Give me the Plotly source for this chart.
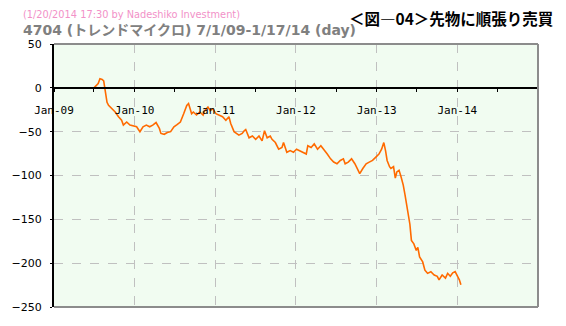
import plotly.graph_objects as go

dates = [
    "2009-07-01", "2009-07-20", "2009-07-28", "2009-08-07", "2009-08-14", "2009-08-19",
    "2009-08-22", "2009-08-29", "2009-09-05", "2009-09-20", "2009-10-05", "2009-10-20",
    "2009-11-03", "2009-11-11", "2009-11-26", "2009-12-11", "2009-12-25",
    "2010-01-10", "2010-01-25", "2010-02-08", "2010-02-23", "2010-03-10", "2010-03-24",
    "2010-04-08", "2010-04-23", "2010-04-30", "2010-05-15", "2010-05-29", "2010-06-13",
    "2010-06-28", "2010-07-12", "2010-07-27", "2010-08-11", "2010-08-25", "2010-09-02",
    "2010-09-16", "2010-09-24", "2010-10-08", "2010-10-23", "2010-11-07", "2010-11-14",
    "2010-11-29", "2010-12-09", "2010-12-21",
    "2011-01-04", "2011-01-19", "2011-02-03", "2011-02-18", "2011-03-04", "2011-03-12",
    "2011-03-27", "2011-04-18", "2011-05-03", "2011-05-12", "2011-05-19", "2011-06-03",
    "2011-06-18", "2011-07-03", "2011-07-18", "2011-08-01", "2011-08-12", "2011-08-24",
    "2011-09-07", "2011-09-15", "2011-09-30", "2011-10-15", "2011-10-30", "2011-11-06",
    "2011-11-21", "2011-12-06", "2011-12-21",
    "2012-01-04", "2012-01-19", "2012-02-03", "2012-02-17", "2012-02-24", "2012-03-10",
    "2012-03-24", "2012-04-08", "2012-04-23", "2012-05-07", "2012-05-22", "2012-06-06",
    "2012-06-20", "2012-07-05", "2012-07-20", "2012-08-03", "2012-08-11", "2012-08-25",
    "2012-09-09", "2012-09-24", "2012-10-08", "2012-10-16", "2012-10-30", "2012-11-14",
    "2012-11-28", "2012-12-13", "2012-12-28",
    "2013-01-11", "2013-01-23", "2013-02-02", "2013-02-10", "2013-02-17", "2013-02-28",
    "2013-03-06", "2013-03-18", "2013-03-26", "2013-04-02", "2013-04-12", "2013-04-21",
    "2013-05-01", "2013-05-09", "2013-05-20", "2013-05-31", "2013-06-07", "2013-06-18",
    "2013-06-29", "2013-07-06", "2013-07-14", "2013-07-28", "2013-08-07", "2013-08-19",
    "2013-09-03", "2013-09-18", "2013-10-02", "2013-10-10", "2013-10-24", "2013-11-08",
    "2013-11-18", "2013-11-30", "2013-12-11", "2013-12-22",
    "2014-01-06", "2014-01-10", "2014-01-17",
]
values = [
    0, 5, 10.4, 9.6, 8, 0,
    -9, -16.5, -20, -24, -27.6, -33,
    -37, -42.5, -39, -42.5, -43.6,
    -44.4, -50, -44.4, -42.5, -44.4, -42.5,
    -39.6, -46.3, -52, -53, -51, -50,
    -44.4, -42, -39, -29.5, -20, -18,
    -29.5, -27.6, -31, -27.6, -31, -26,
    -22, -26, -24,
    -29.5, -31, -33, -37, -33, -40.7,
    -50, -54, -52, -49, -47.5, -57,
    -55, -58.7, -55, -60.5, -49, -57,
    -55, -58.7, -62.4, -70, -68, -62.4,
    -73.5, -71.6, -73.5,
    -70, -71.6, -73.5, -75.5, -66, -68,
    -64, -70, -66, -70, -75.5, -81,
    -84.7, -86.6, -82.8, -81, -86.6, -84.7,
    -81, -86.6, -94, -97.8, -92, -86.6,
    -84.7, -82.8, -79,
    -75.5, -70, -62.4, -72, -82.8, -90,
    -92, -90, -103, -96, -94, -101.5,
    -111, -122, -139, -155.6, -174, -178,
    -185.5, -182, -193, -198.6, -208, -211.6,
    -209.7, -213.5, -215, -219, -213.5, -217,
    -211.6, -215, -211, -209.7,
    -217, -219, -224.7,
]

y_ticks = [50, 0, -50, -100, -150, -200, -250]
x_tick_vals = ["2009-01-01", "2010-01-01", "2011-01-01", "2012-01-01", "2013-01-01", "2014-01-01"]
x_tick_text = ["Jan-09", "Jan-10", "Jan-11", "Jan-12", "Jan-13", "Jan-14"]
x_range = ["2009-01-01", "2015-01-01"]
y_range = [-250, 50]

stamp_text = "(1/20/2014 17:30 by Nadeshiko Investment)"
title_text = "4704 (トレンドマイクロ) 7/1/09-1/17/14 (day)"
figure_label = "＜図―04＞先物に順張り売買"

fig = go.Figure()
fig.add_trace(go.Scatter(
    x=dates, y=values, mode="lines",
    line=dict(color="#ff6a00", width=1.6),
    showlegend=False, hoverinfo="skip",
))

zero_pos = (0 - y_range[0]) / (y_range[1] - y_range[0])

fig.update_layout(
    width=566, height=326,
    margin=dict(l=42, r=28, t=44, b=14),
    paper_bgcolor="white",
    plot_bgcolor="#f1fcf1",
    font=dict(family="DejaVu Sans", size=11, color="#000000"),
    xaxis=dict(
        type="date", range=x_range,
        anchor="free", position=zero_pos,
        tickmode="array", tickvals=x_tick_vals, ticktext=x_tick_text,
        ticks="outside", ticklen=3, tickcolor="#000000", tickwidth=1,
        minor=dict(dtick="M6", tick0="2009-01-01", ticks="outside", ticklen=3,
                   tickcolor="#000000", showgrid=False),
        showline=True, linecolor="#000000", linewidth=2,
        showgrid=True, gridcolor="#c0c0c0", griddash="dash", gridwidth=1,
        tickfont=dict(family="DejaVu Sans Mono", size=11, color="#000000"),
        ticklabelstandoff=9,
        zeroline=False,
    ),
    yaxis=dict(
        range=y_range, tickvals=y_ticks,
        ticks="outside", ticklen=2, tickcolor="#000000",
        showline=True, linecolor="#000000", linewidth=2,
        showgrid=True, gridcolor="#c0c0c0", griddash="dash", gridwidth=1,
        zeroline=False,
        tickfont=dict(family="DejaVu Sans", size=11, color="#000000"),
        ticklabelstandoff=6,
    ),
    shapes=[
        dict(type="line", xref="paper", yref="paper", x0=0, x1=1, y0=1, y1=1,
             line=dict(color="#8c8c8c", width=2)),
        dict(type="line", xref="paper", yref="paper", x0=1, x1=1, y0=0, y1=1,
             line=dict(color="#8c8c8c", width=2)),
        dict(type="line", xref="paper", yref="paper", x0=0, x1=1, y0=0, y1=0,
             line=dict(color="#8c8c8c", width=2)),
    ],
    annotations=[
        dict(text=stamp_text, xref="paper", yref="paper",
             x=(9 - 42) / 496, y=(312 - 13.5) / 268, xanchor="left", yanchor="middle",
             showarrow=False, borderpad=0,
             font=dict(family="DejaVu Sans", size=9.8, color="#f291c8")),
        dict(text="<b>" + title_text + "</b>", xref="paper", yref="paper",
             x=(9 - 42) / 496, y=(312 - 29.5) / 268, xanchor="left", yanchor="middle",
             showarrow=False, borderpad=0,
             font=dict(family="DejaVu Sans, Noto Sans CJK JP", size=14, color="#808080")),
        dict(text="<b>" + figure_label + "</b>", xref="paper", yref="paper",
             x=(555 - 42) / 496, y=(312 - 18) / 268, xanchor="right", yanchor="middle",
             showarrow=False, borderpad=0,
             font=dict(family="Noto Sans CJK JP", size=15.5, color="#000000")),
    ],
)

fig.write_html("out.html")
